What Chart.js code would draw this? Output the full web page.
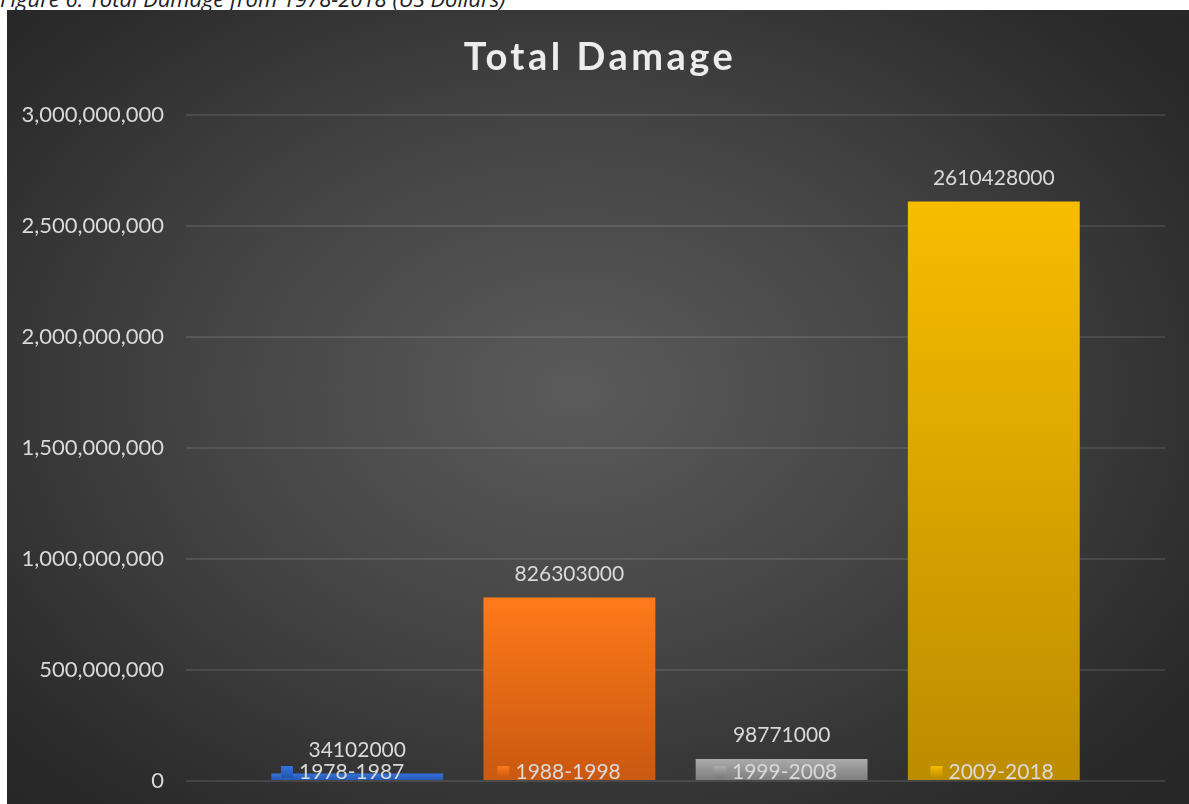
<!DOCTYPE html>
<html>
<head>
<meta charset="utf-8">
<title>Total Damage</title>
<script src="https://cdn.jsdelivr.net/npm/chart.js@4.4.1/dist/chart.umd.min.js"></script>
<style>
  html, body { margin: 0; padding: 0; background: #fff; overflow: hidden; }
  body { width: 1189px; height: 804px; position: relative; }
  #caption {
    position: absolute; left: 0; top: -17px;
    font: italic 22px "Open Sans", sans-serif; color: #222; white-space: nowrap;
  }
  #box {
    position: absolute; left: 7px; top: 10px; width: 1182px; height: 794px;
    background: radial-gradient(ellipse 70% 75% at 48% 48%, #5b5b5b 0%, #444 45%, #2b2b2b 85%, #262626 100%);
  }
</style>
</head>
<body>
<div id="caption">Figure 6: Total Damage from 1978-2018 (US Dollars)</div>
<div id="box"><canvas id="myChart" width="1182" height="794"></canvas></div>
<script>
// data
const periods = ['1978-1987', '1988-1998', '1999-2008', '2009-2018']
const damage = [34102000, 826303000, 98771000, 2610428000]
const yTicks = [0, 500000000, 1000000000, 1500000000, 2000000000, 2500000000, 3000000000]

// top / bottom colour of each bar
const barTop = ['#3373dd', '#ff7a19', '#ababab', '#f7bd00']
const barBottom = ['#2454ad', '#c95811', '#7c7c7c', '#bc8c00']

const FONT = 'Lato, "Open Sans", sans-serif'

const fillFor = (i) => (ctx) => {
    const chart = ctx.chart
    if (!chart.chartArea || !chart.scales.y) return barTop[i]
    const y = chart.scales.y
    const g = chart.ctx.createLinearGradient(0, y.getPixelForValue(damage[i]), 0, y.getPixelForValue(0))
    g.addColorStop(0, barTop[i])
    g.addColorStop(1, barBottom[i])
    return g
}

const datasets = periods.map((p, i) => ({
    label: p,
    data: [damage[i]],
    backgroundColor: fillFor(i),
    borderWidth: 0,
    categoryPercentage: 0.867,
    barPercentage: 0.81
}))

// title with letter spacing
const titlePlugin = {
    id: 'bigTitle',
    afterDraw(chart) {
        const c = chart.ctx
        c.save()
        c.font = 'bold 38px ' + FONT
        c.letterSpacing = '3.5px'
        c.fillStyle = '#ececec'
        c.textAlign = 'center'
        c.textBaseline = 'middle'
        c.fillText('Total Damage', chart.width / 2 + 2, 48)
        c.restore()
    }
}

// value above every bar
const valueLabels = {
    id: 'valueLabels',
    afterDatasetsDraw(chart) {
        const c = chart.ctx
        c.save()
        c.font = '21px ' + FONT
        c.fillStyle = '#d9d9d9'
        c.textAlign = 'center'
        c.textBaseline = 'bottom'
        chart.data.datasets.forEach((ds, i) => {
            const bar = chart.getDatasetMeta(i).data[0]
            c.fillText(String(ds.data[0]), bar.x, bar.y - 13)
        })
        c.restore()
    }
}

// legend sits over the bottom of the bars
const overlayLegend = {
    id: 'overlayLegend',
    afterDatasetsDraw(chart) {
        const c = chart.ctx
        const area = chart.chartArea
        const base = area.bottom - 9
        c.save()
        c.font = '21px ' + FONT
        c.fillStyle = '#d9d9d9'
        c.textBaseline = 'middle'
        periods.forEach((p, i) => {
            const x = area.left + 95 + i * 216.5
            const g = c.createLinearGradient(0, base - 6, 0, base + 6)
            g.addColorStop(0, barTop[i])
            g.addColorStop(1, barBottom[i])
            c.fillStyle = g
            c.fillRect(x, base - 6, 12, 12)
            c.fillStyle = '#d9d9d9'
            c.fillText(p, x + 18, base)
        })
        c.restore()
    }
}

const config = {
    type: 'bar',
    data: { labels: [''], datasets: datasets },
    options: {
        responsive: false,
        animation: false,
        layout: { padding: { top: 105, right: 24, bottom: 23, left: 0 } },
        plugins: {
            legend: { display: false },
            title: { display: false },
            tooltip: { enabled: false }
        },
        scales: {
            x: { display: false },
            y: {
                min: 0,
                max: 3000000000,
                afterFit: (scale) => {
                    scale.width = 179
                    // labels may hang past the plot, the padding above covers them
                    scale.paddingTop = 0
                    scale.paddingBottom = 0
                },
                afterBuildTicks: (scale) => { scale.ticks = yTicks.map(v => ({ value: v })) },
                border: { display: false },
                grid: { color: 'rgba(255,255,255,0.1)', lineWidth: 2, drawTicks: false },
                ticks: {
                    padding: 22,
                    color: '#d9d9d9',
                    font: { family: FONT, size: 22 },
                    callback: (v) => v.toLocaleString('en-US')
                }
            }
        }
    },
    plugins: [titlePlugin, valueLabels, overlayLegend]
}

const myChart = new Chart(document.getElementById('myChart'), config)
</script>
</body>
</html>
